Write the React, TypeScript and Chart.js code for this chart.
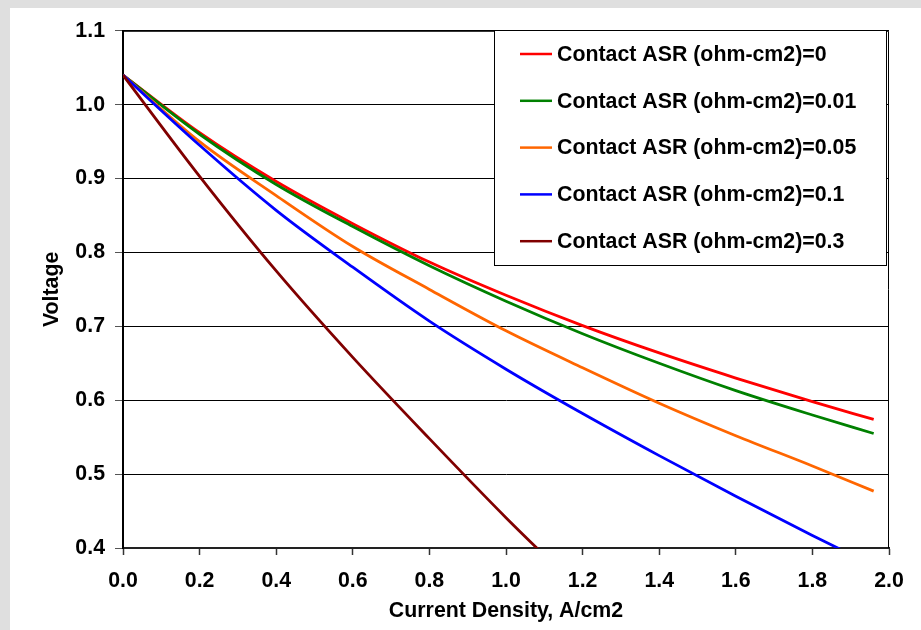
import React, { useEffect, useRef } from "react";
import { Chart, registerables } from "chart.js";

Chart.register(...registerables);

// Current density (A/cm2) at which each polarization curve is sampled
const currentDensity = [0, 0.2, 0.4, 0.6, 0.8, 1.0, 1.2, 1.4, 1.6, 1.8, 1.96];

// Cell voltage for each contact ASR value (ohm-cm2)
const voltageAsr0 = [1.04, 0.962, 0.896, 0.839, 0.787, 0.742, 0.701, 0.664, 0.63, 0.598, 0.574];
const voltageAsr001 = [1.04, 0.96, 0.892, 0.835, 0.782, 0.734, 0.69, 0.65, 0.613, 0.58, 0.555];
const voltageAsr005 = [1.04, 0.95, 0.877, 0.808, 0.75, 0.694, 0.644, 0.596, 0.552, 0.511, 0.477];
const voltageAsr01 = [1.04, 0.945, 0.857, 0.78, 0.707, 0.642, 0.582, 0.525, 0.47, 0.417, 0.376];
const voltageAsr03 = [1.04, 0.903, 0.775, 0.658, 0.548, 0.441, 0.34];

const seriesLabels = [
  "Contact ASR (ohm-cm2)=0",
  "Contact ASR (ohm-cm2)=0.01",
  "Contact ASR (ohm-cm2)=0.05",
  "Contact ASR (ohm-cm2)=0.1",
  "Contact ASR (ohm-cm2)=0.3",
];
const seriesValues = [voltageAsr0, voltageAsr001, voltageAsr005, voltageAsr01, voltageAsr03];
const seriesColors = ["#ff0000", "#008000", "#ff6600", "#0000ff", "#800000"];

const xAxisTitle = "Current Density, A/cm2";
const yAxisTitle = "Voltage";

const FONT_FAMILY = "'Liberation Sans', Arial, Helvetica, sans-serif";
const FONT_SIZE = 21.33;

// Plot frame (right/top edges) and the boxed legend in the upper right
const framePlugin = {
  id: "plotFrame",
  beforeDatasetsDraw(chart: any) {
    const { ctx, chartArea } = chart;
    ctx.save();
    ctx.strokeStyle = "#000";
    ctx.lineWidth = 1;
    ctx.beginPath();
    ctx.moveTo(chartArea.left, chartArea.top + 0.5);
    ctx.lineTo(chartArea.right - 0.5, chartArea.top + 0.5);
    ctx.lineTo(chartArea.right - 0.5, chartArea.bottom);
    ctx.stroke();
    ctx.restore();
  },
};

const boxedLegendPlugin = {
  id: "boxedLegend",
  afterDatasetsDraw(chart: any) {
    const { ctx } = chart;
    const left = 484;
    const top = 22;
    const width = 392;
    const height = 235;
    const firstRow = 24;
    const rowGap = 46.8;
    ctx.save();
    ctx.fillStyle = "#fff";
    ctx.fillRect(left, top, width, height);
    ctx.strokeStyle = "#000";
    ctx.lineWidth = 1;
    ctx.strokeRect(left + 0.5, top + 0.5, width, height);
    ctx.font = `bold ${FONT_SIZE}px ${FONT_FAMILY}`;
    ctx.textAlign = "left";
    ctx.textBaseline = "middle";
    chart.data.datasets.forEach((ds: any, i: number) => {
      const y = top + firstRow + i * rowGap;
      ctx.strokeStyle = ds.borderColor;
      ctx.lineWidth = 2.5;
      ctx.beginPath();
      ctx.moveTo(left + 26, y);
      ctx.lineTo(left + 58, y);
      ctx.stroke();
      ctx.fillStyle = "#000";
      ctx.fillText(ds.label, left + 63, y + 1);
    });
    ctx.restore();
  },
};

export default function App() {
  const canvasRef = useRef<HTMLCanvasElement | null>(null);

  useEffect(() => {
    const canvas = canvasRef.current;
    if (!canvas) return;
    Chart.defaults.font.family = FONT_FAMILY;

    const datasets = seriesLabels.map((label, i) => ({
      label,
      data: seriesValues[i].map((v, j) => ({ x: currentDensity[j], y: v })),
      borderColor: seriesColors[i],
      backgroundColor: seriesColors[i],
      borderWidth: 2.8,
      pointRadius: 0,
      fill: false,
      cubicInterpolationMode: "monotone" as const,
      order: seriesLabels.length - i,
    }));

    const tickFont = { size: FONT_SIZE, weight: "bold" as const, family: FONT_FAMILY };

    const chart = new Chart(canvas, {
      type: "line",
      data: { datasets },
      options: {
        animation: false,
        responsive: false,
        devicePixelRatio: 1,
        layout: { padding: { left: 0, top: 19, right: 32, bottom: 0 } },
        plugins: {
          legend: { display: false },
          tooltip: { enabled: false },
        },
        scales: {
          x: {
            type: "linear",
            min: 0,
            max: 2,
            afterFit(scale: any) {
              scale.height = 82;
            },
            ticks: {
              stepSize: 0.2,
              color: "#000",
              font: tickFont,
              padding: 13,
              maxRotation: 0,
              callback: (v: any) => Number(v).toFixed(1),
            },
            grid: {
              drawOnChartArea: false,
              drawTicks: true,
              tickLength: 7,
              tickColor: "#333",
              tickWidth: 1.5,
            },
            border: { display: true, color: "#222", width: 2 },
            title: {
              display: true,
              text: xAxisTitle,
              color: "#000",
              font: tickFont,
              padding: { top: 0, bottom: 6 },
            },
          },
          y: {
            type: "linear",
            min: 0.4,
            max: 1.1,
            afterFit(scale: any) {
              scale.width = 113;
            },
            ticks: {
              stepSize: 0.1,
              color: "#000",
              font: tickFont,
              padding: 10,
              callback: (v: any) => Number(v).toFixed(1),
            },
            grid: {
              color: "#000",
              lineWidth: 1,
              drawTicks: true,
              tickLength: 8,
              tickColor: "#555",
              tickWidth: 1,
            },
            border: { display: true, color: "#000", width: 2 },
            title: {
              display: true,
              text: yAxisTitle,
              color: "#000",
              font: tickFont,
              padding: { top: 29, bottom: 0 },
            },
          },
        },
      },
      plugins: [framePlugin, boxedLegendPlugin],
    });

    return () => chart.destroy();
  }, []);

  return (
    <div
      style={{
        position: "absolute",
        left: 0,
        top: 0,
        width: 921,
        height: 630,
        background: "#dfdfdf",
        overflow: "hidden",
      }}
    >
      <div
        style={{
          position: "absolute",
          left: 10,
          top: 8,
          width: 911,
          height: 622,
          background: "#fff",
        }}
      >
        <canvas ref={canvasRef} width={911} height={622} style={{ display: "block" }} />
      </div>
    </div>
  );
}
